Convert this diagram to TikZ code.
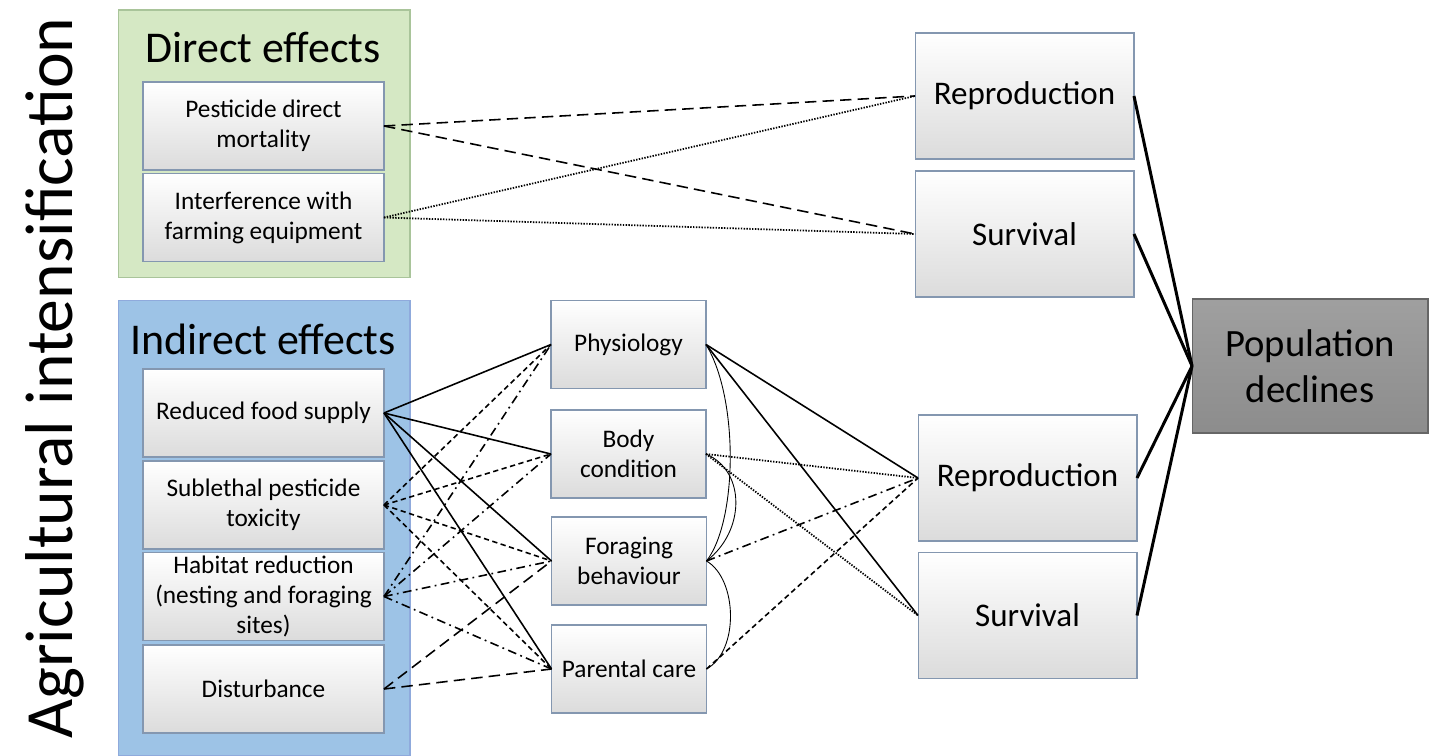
\documentclass[tikz,border=0pt]{standalone}
\usepackage{fontspec}
\setmainfont{Carlito}
\usepackage{xcolor}
\usepackage{tikz}
\usetikzlibrary{arrows.meta,positioning}

\definecolor{boxline}{HTML}{8497B0}
\definecolor{dirfill}{HTML}{D5E8C4}
\definecolor{dirline}{HTML}{A9C49A}
\definecolor{indfill}{HTML}{9DC3E6}
\definecolor{indline}{HTML}{8FAADC}

\begin{document}
\begin{tikzpicture}[
        x=0.02cm, y=-0.02cm,
        panel/.style={
            minimum width=5.84cm,
            inner sep=0pt, outer sep=0pt,
            line width=0.6pt
        },
        paneltitle/.style={font=\fontsize{25}{28}\selectfont},
        effbox/.style={
            draw=boxline,
            top color=white, bottom color=gray!28,
            line width=0.6pt,
            align=center,
            inner sep=1pt, outer sep=0pt,
            minimum width=4.82cm,
            minimum height=1.76cm,
            font=\fontsize{14.4}{17}\selectfont
        },
        midbox/.style={effbox, minimum width=3.1cm},
        outbox/.style={effbox, minimum width=4.38cm, minimum height=2.52cm,
            font=\fontsize{18.8}{22}\selectfont},
        popbox/.style={effbox, draw=gray!80!black,
            top color=gray!75, bottom color=gray!110!black,
            minimum width=4.72cm, minimum height=2.68cm,
            font=\fontsize{22}{26}\selectfont},
        link/.style={line width=0.9pt},
        linkdash/.style={line width=0.9pt, dash pattern=on 3pt off 2pt},
        linklong/.style={line width=0.9pt, dash pattern=on 6.5pt off 3.5pt},
        linkdot/.style={line width=1pt, dash pattern=on 0.8pt off 0.8pt},
        linkdashdot/.style={line width=0.9pt, dash pattern=on 5pt off 2.5pt on 1pt off 2.5pt},
        feedback/.style={line width=0.5pt},
        toplink/.style={line width=1.7pt}
    ]
        \useasboundingbox (0,0) rectangle (1435,756);

        % side label
        \node[rotate=90, font=\fontsize{38.5}{42}\selectfont] (agri) at (55,378) {Agricultural intensification};

        % panels
        \node[panel, draw=dirline, fill=dirfill, minimum height=5.36cm] (dirpanel) at (264,144) {};
        \node[panel, draw=indline, fill=indfill, minimum height=9.12cm] (indpanel) at (264,528) {};
        \node[paneltitle] (dirtitle) at (263,47) {Direct effects};
        \node[paneltitle] (indtitle) at (263,339) {Indirect effects};

        % drivers
        \node[effbox] (pdm) at (263.5,126) {Pesticide direct\\mortality};
        \node[effbox] (ife) at (263.5,217.5) {Interference with\\farming equipment};
        \node[effbox] (rfs) at (263.5,413) {Reduced food supply};
        \node[effbox] (spt) at (263.5,505) {Sublethal pesticide\\toxicity};
        \node[effbox] (hab) at (263.5,596.5) {Habitat reduction\\(nesting and foraging\\sites)};
        \node[effbox] (dist) at (263.5,689) {Disturbance};

        % mechanisms
        \node[midbox] (phys) at (628.5,344.5) {Physiology};
        \node[midbox] (body) at (628.5,454) {Body\\condition};
        \node[midbox] (forag) at (629,561) {Foraging\\behaviour};
        \node[midbox] (parent) at (629,669) {Parental care};

        % demographic outcomes
        \node[outbox] (repro1) at (1024.5,96) {Reproduction};
        \node[outbox] (surv1) at (1024.5,234) {Survival};
        \node[outbox] (repro2) at (1027.5,478) {Reproduction};
        \node[outbox] (surv2) at (1027.5,615.5) {Survival};
        \node[popbox] (popdec) at (1310,366) {Population\\declines};

        % direct links
        \draw[linklong] (pdm.east) -- (repro1.west);
        \draw[linklong] (pdm.east) -- (surv1.west);
        \draw[linkdot] (ife.east) -- (repro1.west);
        \draw[linkdot] (ife.east) -- (surv1.west);

        % indirect links
        \draw[link] (rfs.east) -- (phys.west);
        \draw[link] (rfs.east) -- (body.west);
        \draw[link] (rfs.east) -- (forag.west);
        \draw[link] (rfs.east) -- (parent.west);
        \draw[linkdash] (spt.east) -- (phys.west);
        \draw[linkdash] (spt.east) -- (body.west);
        \draw[linkdash] (spt.east) -- (forag.west);
        \draw[linkdash] (spt.east) -- (parent.west);
        \draw[linkdashdot] (hab.east) -- (phys.west);
        \draw[linkdashdot] (hab.east) -- (body.west);
        \draw[linkdashdot] (hab.east) -- (forag.west);
        \draw[linkdashdot] (hab.east) -- (parent.west);
        \draw[linklong] (dist.east) -- (forag.west);
        \draw[linklong] (dist.east) -- (parent.west);

        % mechanism links
        \draw[link] (phys.east) -- (repro2.west);
        \draw[link] (phys.east) -- (surv2.west);
        \draw[linkdot] (body.east) -- (repro2.west);
        \draw[linkdot] (body.east) -- (surv2.west);
        \draw[linkdashdot] (forag.east) -- (repro2.west);
        \draw[linkdash] (parent.east) -- (repro2.west);
        \draw[feedback] (phys.east) .. controls +(33,54) and +(31,-40) .. (forag.east);
        \draw[feedback] (body.east) .. controls +(40,17) and +(39,-30) .. (forag.east);
        \draw[feedback] (forag.east) .. controls +(31,18) and +(33,-18) .. (parent.east);

        % outcomes to population
        \draw[toplink] (repro1.east) -- (popdec.west);
        \draw[toplink] (surv1.east) -- (popdec.west);
        \draw[toplink] (repro2.east) -- (popdec.west);
        \draw[toplink] (surv2.east) -- (popdec.west);
    \end{tikzpicture}
\end{document}
